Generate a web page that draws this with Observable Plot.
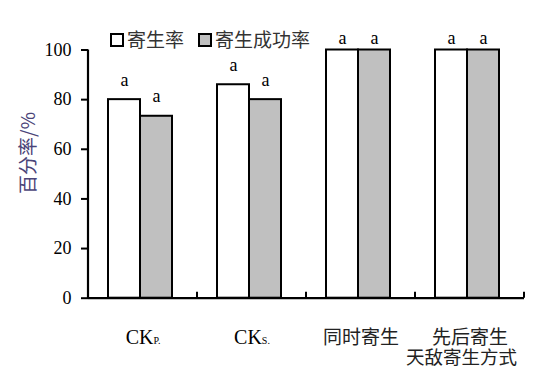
<!DOCTYPE html>
<html>
<head>
<meta charset="utf-8">
<script src="https://cdn.jsdelivr.net/npm/d3@7"></script>
<script src="https://cdn.jsdelivr.net/npm/@observablehq/plot@0.6"></script>
<style>
  html, body { margin: 0; padding: 0; background: #fff; }
  #chart { position: relative; width: 537px; height: 367px; }
</style>
</head>
<body>
<div id="chart"></div>
<script>
// ---- data ----
const categories = ["CKP.", "CKS.", "同时寄生", "先后寄生"];
const seriesNames = ["寄生率", "寄生成功率"];
const parasitismRate = [80, 86, 100, 100];
const successRate = [73.3, 80, 100, 100];
const sigParasitism = ["a", "a", "a", "a"];
const sigSuccess = ["a", "a", "a", "a"];
const yTicks = [0, 20, 40, 60, 80, 100];
const yTitle = "百分率/%";
const xTitle = "天敌寄生方式";
const seriesColors = ["#ffffff", "#c0c0c0"];

const rows = [];
categories.forEach((c, i) => {
  rows.push({cat: c, series: seriesNames[0], value: parasitismRate[i], sig: sigParasitism[i]});
  rows.push({cat: c, series: seriesNames[1], value: successRate[i], sig: sigSuccess[i]});
});

const serif = "'Liberation Serif', 'Times New Roman', serif";
const cjk = "'Noto Sans CJK SC', sans-serif";

const chart = Plot.plot({
  width: 537,
  height: 367,
  marginLeft: 87,
  marginRight: 13,
  marginTop: 49.5,
  marginBottom: 69.3,
  style: {fontFamily: serif, color: "#000", background: "#fff"},
  fx: {domain: categories, padding: 0, label: null, axis: null},
  x: {domain: seriesNames, paddingInner: 0, paddingOuter: 0.685, align: 0.45, axis: null},
  y: {domain: [0, 100], label: null},
  color: {domain: seriesNames, range: seriesColors},
  marks: [
    Plot.barY(rows, {fx: "cat", x: "series", y: "value", fill: "series", stroke: "#000", strokeWidth: 2}),
    Plot.text(rows, {fx: "cat", x: "series", y: d => Math.min(d.value + 8, 104.6), text: "sig",
      fontSize: 18, fontFamily: serif, fill: "#000"}),
    Plot.ruleY([0], {stroke: "#000", strokeWidth: 2.2}),
    Plot.axisY({ticks: yTicks, tickSize: 7, tickPadding: 10, fontSize: 18, fontFamily: serif,
      strokeWidth: 2, label: null, tickFormat: d => String(d)}),
    Plot.axisFx({anchor: "bottom", tickSize: 0, tickPadding: 32, fontSize: 20, fontFamily: serif, label: null})
  ]
});

document.getElementById("chart").appendChild(chart);

const svg = d3.select(chart);
const fx = chart.scale("fx");
const yS = chart.scale("y");
const y0 = yS.apply(0);
const bw = fx.bandwidth;

// y axis line
svg.append("line")
  .attr("x1", fx.apply(categories[0])).attr("x2", fx.apply(categories[0]))
  .attr("y1", yS.apply(100)).attr("y2", y0 + 1)
  .attr("stroke", "#000").attr("stroke-width", 2.2);

// boundary tick marks (pointing up) at right edges of category bands
categories.forEach(c => {
  const xe = fx.apply(c) + bw;
  svg.append("line")
    .attr("x1", xe).attr("x2", xe)
    .attr("y1", y0).attr("y2", y0 - 6)
    .attr("stroke", "#000").attr("stroke-width", 2);
});

// fonts for all texts, subscripts for CK, CJK font for Chinese
svg.selectAll("text").each(function() {
  const t = d3.select(this);
  const s = this.textContent;
  t.style("font-family", serif).attr("font-family", serif);
  if (/^CK/.test(s) && this.childElementCount === 0) {
    const sub = s.slice(2);
    t.text("CK");
    t.append("tspan").attr("font-size", 10).text(sub);
  } else if (categories.includes(s)) {
    t.style("font-family", cjk).attr("font-size", 19).attr("fill", "#222");
  }
});

// y title
svg.append("text")
  .attr("transform", `translate(35,${153}) rotate(-90)`)
  .attr("text-anchor", "middle")
  .style("font-family", cjk).attr("font-size", 19).attr("fill", "#4b4478")
  .text(yTitle);

// x title
svg.append("text")
  .attr("x", 517).attr("y", 364)
  .attr("text-anchor", "end")
  .style("font-family", cjk).attr("font-size", 18.5).attr("fill", "#222")
  .text(xTitle);

// legend
const leg = svg.append("g");
const legItems = [
  {name: seriesNames[0], color: seriesColors[0], box: 111, tx: 127},
  {name: seriesNames[1], color: seriesColors[1], box: 199, tx: 215}
];
legItems.forEach(it => {
  leg.append("rect").attr("x", it.box).attr("y", 34).attr("width", 12).attr("height", 12)
    .attr("fill", it.color).attr("stroke", "#000").attr("stroke-width", 2);
  leg.append("text").attr("x", it.tx).attr("y", 47)
    .attr("text-anchor", "start")
    .style("font-family", cjk).attr("font-size", 19).attr("fill", "#333")
    .text(it.name);
});
</script>
</body>
</html>
